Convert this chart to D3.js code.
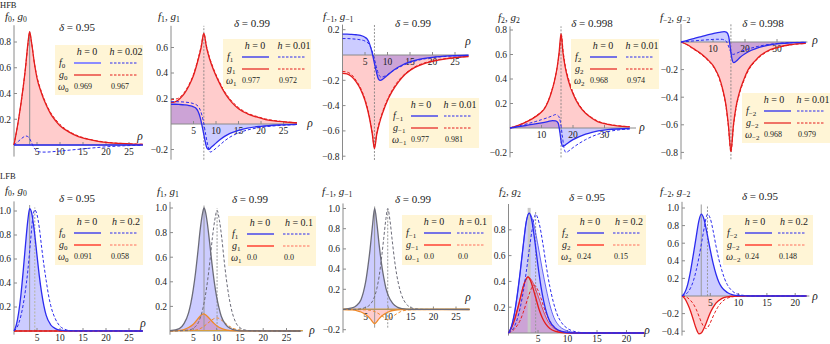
<!DOCTYPE html>
<html>
<head>
<meta charset="utf-8">
<script src="https://cdn.jsdelivr.net/npm/d3@7"></script>
<style>
  body { margin: 0; background: #fff; }
  svg text { font-family: "Liberation Serif", "DejaVu Serif", serif; fill: #222; }
</style>
</head>
<body>
<svg id="chart" width="830" height="344"></svg>
<script>
// ---------- values ----------
var modes = ["0", "1", "\u22121", "2", "\u22122"];
var hfbDelta = ["0.95", "0.99", "0.99", "0.998", "0.998"];
var lfbDelta = ["0.95", "0.99", "0.99", "0.95", "0.95"];
var hfbH = ["0.02", "0.01", "0.01", "0.01", "0.01"];
var lfbH = ["0.2", "0.1", "0.1", "0.2", "0.2"];
var hfbOmega = [["0.969", "0.967"], ["0.977", "0.972"], ["0.977", "0.981"], ["0.968", "0.974"], ["0.968", "0.979"]];
var lfbOmega = [["0.091", "0.058"], ["0.0", "0.0"], ["0.0", "0.0"], ["0.24", "0.15"], ["0.24", "0.148"]];
var hfbPeak = [3.4, 7.3, 7.1, 16.2, 15.6];
var lfbPeak = [[3.4, 4.5], [7.3, 10.1], [7.0, 9.9], [3.5, 4.6], [3.4, 4.5]];

var xTicksA = [5, 10, 15, 20, 25];
var xTicksB = [10, 20, 30];
var xTicksC = [5, 10, 15, 20];
var yTicksP1 = [0.2, 0.4, 0.6, 0.8];
var yTicksP2 = [-0.2, 0.2, 0.4, 0.6];
var yTicksP3 = [0.2, -0.2, -0.4, -0.6, -0.8];
var yTicksP4 = [-0.2, 0.2, 0.4, 0.6, 0.8];
var yTicksP5 = [-0.2, -0.4, -0.6, -0.8];
var yTicksL1 = [0.2, 0.4, 0.6, 0.8, 1.0];
var yTicksL3 = [-0.2, 0.2, 0.4, 0.6, 0.8, 1.0];
var yTicksL4 = [0.2, 0.4, 0.6, 0.8];
var yTicksL5 = [-0.4, -0.2, 0.2, 0.4, 0.6, 0.8, 1.0];

// HFB, m = 0
var hfb0_f_a = [[0,0],[28,0]];
var hfb0_f_b = [[0,0],[1,0.03],[2,0.06],[2.6,0.07],[3.2,0.06],[3.8,0.02],[4.3,-0.02],[5,-0.045],[6,-0.055],[7,-0.055],[9,-0.05],[12,-0.04],[15,-0.03],[18,-0.02],[21,-0.012],[24,-0.006],[28,-0.002]];
var hfb0_g_a = [[0,0],[1,0.2],[2,0.45],[2.5,0.6],[3,0.78],[3.4,0.88],[3.8,0.8],[4.5,0.62],[5,0.52],[6,0.4],[7,0.31],[8,0.24],[9,0.19],[10,0.15],[12,0.1],[14,0.065],[16,0.045],[18,0.03],[20,0.02],[23,0.012],[26,0.007],[28,0.005]];
var hfb0_g_b = [[0,0],[1,0.2],[2,0.45],[2.5,0.6],[3,0.77],[3.4,0.87],[3.8,0.8],[4.5,0.62],[5,0.53],[6,0.41],[7,0.32],[8,0.25],[9,0.2],[10,0.16],[12,0.105],[14,0.07],[16,0.048],[18,0.033],[20,0.022],[23,0.013],[26,0.008],[28,0.006]];
// HFB, m = 1
var hfb1_f_a = [[0,0.155],[1,0.155],[2,0.153],[3,0.15],[4,0.145],[5,0.135],[5.5,0.125],[6,0.1],[6.5,0.05],[7,-0.03],[7.5,-0.12],[8,-0.19],[8.4,-0.2],[9,-0.18],[10,-0.15],[11,-0.12],[12,-0.095],[13,-0.075],[15,-0.05],[17,-0.032],[20,-0.018],[24,-0.008],[28,-0.003]];
var hfb1_f_b = [[0,0.175],[1,0.175],[2,0.174],[3,0.172],[4,0.168],[5,0.16],[6,0.14],[6.6,0.1],[7.2,0.02],[7.7,-0.08],[8.2,-0.17],[8.7,-0.22],[9.3,-0.21],[10,-0.19],[11,-0.16],[12,-0.13],[13,-0.105],[15,-0.07],[17,-0.047],[20,-0.026],[24,-0.012],[28,-0.005]];
var hfb1_g_a = [[0,0.17],[0.5,0.17],[1,0.175],[2,0.2],[3,0.24],[4,0.3],[5,0.38],[6,0.5],[6.7,0.6],[7.3,0.71],[7.9,0.6],[8.5,0.52],[9.5,0.42],[10.5,0.34],[12,0.24],[13.5,0.17],[15,0.12],[17,0.08],[19,0.055],[21,0.035],[24,0.02],[28,0.008]];
var hfb1_g_b = [[0,0.19],[1,0.195],[2,0.21],[3,0.25],[4,0.31],[5,0.39],[6,0.51],[6.7,0.61],[7.3,0.71],[7.9,0.61],[8.5,0.53],[9.5,0.43],[10.5,0.35],[12,0.25],[13.5,0.18],[15,0.13],[17,0.085],[19,0.06],[21,0.04],[24,0.022],[28,0.01]];
// HFB, m = -1
var hfbm1_f_a = [[0,0.165],[1,0.165],[2,0.163],[3,0.16],[4,0.155],[5,0.14],[5.5,0.125],[6,0.09],[6.5,0.03],[7,-0.05],[7.5,-0.13],[8,-0.19],[8.4,-0.2],[9,-0.19],[10,-0.16],[11,-0.13],[12,-0.105],[13,-0.085],[15,-0.055],[17,-0.035],[20,-0.018],[24,-0.007],[28,-0.002]];
var hfbm1_f_b = [[0,0.13],[1,0.13],[2,0.128],[3,0.125],[4,0.12],[5,0.11],[6,0.08],[6.5,0.04],[7,-0.02],[7.5,-0.09],[8,-0.15],[8.6,-0.175],[9.2,-0.17],[10,-0.155],[11,-0.13],[12,-0.11],[13,-0.09],[15,-0.06],[17,-0.04],[20,-0.021],[24,-0.009],[28,-0.003]];
var hfbm1_g_a = [[0,-0.145],[1,-0.15],[2,-0.17],[3,-0.21],[4,-0.27],[5,-0.36],[6,-0.5],[6.6,-0.62],[7.1,-0.74],[7.6,-0.63],[8.2,-0.54],[9,-0.45],[10,-0.36],[11,-0.29],[12.5,-0.21],[14,-0.15],[16,-0.1],[18,-0.07],[20,-0.05],[23,-0.03],[28,-0.012]];
var hfbm1_g_b = [[0,-0.13],[1,-0.135],[2,-0.155],[3,-0.2],[4,-0.26],[5,-0.35],[6,-0.49],[6.6,-0.61],[7.1,-0.73],[7.6,-0.62],[8.2,-0.53],[9,-0.44],[10,-0.35],[11,-0.28],[12.5,-0.2],[14,-0.145],[16,-0.095],[18,-0.065],[20,-0.045],[23,-0.028],[28,-0.011]];
// HFB, m = 2
var hfb2_f_a = [[0,0],[2,0.008],[4,0.016],[6,0.025],[8,0.033],[10,0.042],[12,0.052],[13.5,0.06],[14.5,0.058],[15.3,0.04],[15.8,-0.03],[16.3,-0.12],[16.8,-0.15],[17.5,-0.14],[18.5,-0.12],[20,-0.095],[22,-0.07],[24,-0.05],[26,-0.035],[28,-0.024],[31,-0.014],[34,-0.008],[38,-0.004]];
var hfb2_f_b = [[0,0],[2,0.012],[4,0.025],[6,0.038],[8,0.052],[10,0.068],[12,0.085],[13.5,0.1],[14.5,0.11],[15.3,0.1],[16,0.05],[16.6,-0.06],[17.2,-0.17],[17.8,-0.2],[18.5,-0.19],[20,-0.16],[22,-0.125],[24,-0.095],[26,-0.07],[28,-0.05],[31,-0.03],[34,-0.017],[38,-0.008]];
var hfb2_g_a = [[0,0],[2,0.015],[4,0.035],[6,0.06],[8,0.09],[10,0.13],[11,0.16],[12,0.21],[13,0.28],[14,0.37],[15,0.5],[15.6,0.62],[16.2,0.77],[16.8,0.62],[17.5,0.5],[18.5,0.39],[20,0.28],[22,0.18],[24,0.12],[26,0.08],[28,0.05],[31,0.03],[34,0.018],[38,0.01]];
var hfb2_g_b = [[0,0],[2,0.016],[4,0.037],[6,0.063],[8,0.095],[10,0.135],[11,0.165],[12,0.215],[13,0.285],[14,0.375],[15,0.5],[15.7,0.62],[16.3,0.76],[16.9,0.62],[17.6,0.5],[18.6,0.4],[20,0.29],[22,0.19],[24,0.125],[26,0.085],[28,0.055],[31,0.033],[34,0.02],[38,0.011]];
// HFB, m = -2
var hfbm2_f_a = [[0,0],[2,0.012],[4,0.025],[6,0.037],[8,0.05],[10,0.06],[12,0.07],[13.5,0.075],[14.3,0.07],[14.9,0.04],[15.4,-0.04],[15.9,-0.12],[16.5,-0.15],[17.2,-0.14],[18.5,-0.11],[20,-0.085],[22,-0.06],[24,-0.042],[26,-0.03],[28,-0.02],[31,-0.011],[35,-0.005],[39,-0.002]];
var hfbm2_f_b = [[0,0],[3,0.006],[6,0.012],[9,0.017],[11,0.02],[12.5,0.02],[13.5,0.015],[14.3,0],[15,-0.04],[15.7,-0.08],[16.3,-0.09],[17,-0.085],[18.5,-0.07],[20,-0.058],[22,-0.044],[24,-0.032],[26,-0.023],[28,-0.016],[31,-0.009],[35,-0.004],[39,-0.002]];
var hfbm2_g_a = [[0,0],[2,-0.02],[4,-0.05],[6,-0.08],[8,-0.12],[10,-0.17],[11,-0.21],[12,-0.26],[13,-0.34],[14,-0.45],[14.8,-0.6],[15.6,-0.79],[16.4,-0.6],[17.2,-0.47],[18.2,-0.37],[19.5,-0.28],[21,-0.2],[23,-0.14],[25,-0.095],[27,-0.065],[30,-0.04],[34,-0.02],[39,-0.01]];
var hfbm2_g_b = [[0,0],[2,-0.022],[4,-0.053],[6,-0.085],[8,-0.125],[10,-0.175],[11,-0.215],[12,-0.27],[13,-0.35],[14,-0.46],[14.8,-0.61],[15.6,-0.8],[16.4,-0.61],[17.2,-0.48],[18.2,-0.38],[19.5,-0.29],[21,-0.21],[23,-0.145],[25,-0.1],[27,-0.07],[30,-0.043],[34,-0.022],[39,-0.011]];

// LFB, m = 0
var lfb0_f_a = [[0,0],[0.5,0.05],[1,0.15],[1.5,0.3],[2,0.5],[2.5,0.72],[3,0.92],[3.4,1.02],[3.8,0.99],[4.3,0.87],[5,0.63],[5.5,0.46],[6,0.32],[6.5,0.21],[7,0.13],[8,0.05],[9,0.02],[10,0.007],[12,0.001],[28,0]];
var lfb0_f_b = [[0,0],[1,0.06],[2,0.22],[3,0.5],[3.6,0.75],[4.1,0.95],[4.5,1.01],[5,0.97],[5.5,0.86],[6,0.7],[6.5,0.55],[7,0.42],[7.5,0.3],[8,0.21],[9,0.1],[10,0.04],[11,0.015],[12,0.005],[14,0],[28,0]];
var lfb0_g_a = [[0,0],[28,0]];
var lfb0_g_b = [[0,0],[28,0]];
// LFB, m = 1
var lfb1_f_a = [[0,0.003],[2,0.02],[3,0.06],[4,0.15],[4.5,0.23],[5,0.34],[5.5,0.48],[6,0.65],[6.5,0.83],[7,0.96],[7.3,1.0],[7.6,0.97],[8,0.88],[8.5,0.72],[9,0.55],[9.5,0.4],[10,0.28],[10.5,0.19],[11,0.12],[12,0.05],[13,0.02],[14,0.008],[16,0.001],[28,0]];
var lfb1_f_b = [[0,0],[4.1,0.008],[5.1,0.025],[6.1,0.07],[7.1,0.19],[7.6,0.29],[8.1,0.42],[8.6,0.58],[9.1,0.76],[9.6,0.9],[10.1,0.98],[10.6,0.9],[11.1,0.76],[11.6,0.58],[12.1,0.42],[12.6,0.29],[13.1,0.19],[14.1,0.07],[15.1,0.025],[16.1,0.008],[18,0.001],[28,0]];
var lfb1_g_a = [[0,0],[2,0.005],[3,0.012],[4,0.028],[5,0.055],[6,0.1],[6.7,0.13],[7.2,0.14],[7.7,0.13],[8.5,0.1],[9.5,0.06],[10.5,0.03],[12,0.01],[14,0.002],[28,0]];
var lfb1_g_b = [[0,0],[5,0.004],[6,0.012],[7,0.03],[8,0.06],[9,0.09],[9.6,0.103],[10.1,0.107],[10.6,0.1],[11.5,0.075],[12.5,0.045],[13.5,0.022],[15,0.007],[17,0.001],[28,0]];
// LFB, m = -1
var lfbm1_f_a = [[0,0.002],[2,0.015],[3,0.04],[4,0.1],[4.5,0.17],[5,0.27],[5.5,0.42],[6,0.6],[6.5,0.82],[7,1.0],[7.5,0.85],[8,0.64],[8.5,0.46],[9,0.32],[9.5,0.21],[10,0.14],[11,0.06],[12,0.024],[13,0.009],[15,0.001],[28,0]];
var lfbm1_f_b = [[0,0],[3,0.002],[5,0.02],[6,0.05],[7,0.13],[7.5,0.21],[8,0.33],[8.5,0.5],[9,0.7],[9.5,0.9],[9.9,1.0],[10.4,0.88],[10.9,0.68],[11.4,0.49],[11.9,0.34],[12.4,0.23],[12.9,0.15],[13.9,0.06],[14.9,0.022],[16,0.007],[18,0.001],[28,0]];
var lfbm1_g_a = [[0,0],[2,-0.004],[3,-0.01],[4,-0.025],[5,-0.05],[6,-0.09],[6.6,-0.125],[7,-0.14],[7.4,-0.125],[8,-0.09],[9,-0.05],[10,-0.025],[11,-0.01],[13,-0.002],[28,0]];
var lfbm1_g_b = [[0,0],[5,-0.003],[6,-0.008],[7,-0.02],[8,-0.045],[9,-0.075],[9.9,-0.1],[10.8,-0.075],[11.8,-0.045],[12.8,-0.02],[14,-0.006],[16,-0.001],[28,0]];
// LFB, m = 2
var lfb2_f_a = [[0,0],[0.5,0.05],[1,0.15],[1.5,0.3],[2,0.48],[2.5,0.68],[3,0.86],[3.5,0.93],[4,0.86],[4.5,0.7],[5,0.52],[5.5,0.36],[6,0.24],[6.5,0.15],[7,0.09],[8,0.035],[9,0.012],[10,0.004],[12,0],[23,0]];
var lfb2_f_c = [[0,0],[0.5,0.05],[1,0.15],[1.5,0.3],[2,0.48],[2.5,0.68],[3,0.86],[3.5,0.93],[4.2,0.86],[5,0.68],[5.7,0.5],[6.4,0.34],[7,0.22],[7.7,0.12],[8.5,0.06],[9.5,0.025],[10.5,0.01],[12,0.002],[23,0]];
var lfb2_f_b = [[0,0],[1,0.05],[1.5,0.11],[2,0.2],[2.5,0.32],[3,0.47],[3.5,0.64],[4,0.8],[4.6,0.92],[5.2,0.85],[5.8,0.7],[6.4,0.52],[7,0.36],[7.6,0.24],[8.2,0.15],[9,0.08],[10,0.035],[11,0.014],[12,0.005],[14,0],[23,0]];
var lfb2_g_a = [[0,0],[0.5,0.04],[1,0.1],[1.5,0.18],[2,0.27],[2.5,0.36],[3,0.42],[3.3,0.435],[3.7,0.41],[4.2,0.34],[4.7,0.26],[5.2,0.18],[5.7,0.12],[6.3,0.07],[7,0.035],[8,0.012],[9,0.004],[11,0],[23,0]];
var lfb2_g_c = [[0,0],[0.5,0.04],[1,0.1],[1.5,0.18],[2,0.27],[2.5,0.36],[3,0.42],[3.3,0.435],[3.9,0.41],[4.6,0.34],[5.3,0.25],[6,0.16],[6.7,0.09],[7.5,0.045],[8.5,0.018],[10,0.004],[12,0],[23,0]];
var lfb2_g_b = [[0,0],[1,0.03],[1.5,0.06],[2,0.1],[2.5,0.16],[3,0.23],[3.5,0.3],[4,0.355],[4.4,0.37],[4.9,0.34],[5.5,0.27],[6,0.2],[6.6,0.13],[7.3,0.07],[8,0.035],[9,0.012],[10,0.004],[12,0],[23,0]];
// LFB, m = -2
var lfbm2_f_a = [[0,0],[0.5,0.04],[1,0.13],[1.5,0.28],[2,0.47],[2.5,0.67],[3,0.86],[3.4,0.93],[3.9,0.87],[4.4,0.72],[5,0.52],[5.5,0.37],[6,0.25],[6.5,0.16],[7,0.1],[8,0.04],[9,0.014],[10,0.005],[12,0],[22,0]];
var lfbm2_f_b = [[0,0],[1,0.04],[1.5,0.09],[2,0.17],[2.5,0.29],[3,0.44],[3.5,0.62],[4,0.8],[4.5,0.93],[5,0.88],[5.5,0.74],[6,0.57],[6.5,0.42],[7,0.3],[7.5,0.2],[8,0.13],[9,0.05],[10,0.018],[11,0.006],[13,0],[22,0]];
var lfbm2_g_a = [[0,0],[0.5,-0.03],[1,-0.09],[1.5,-0.17],[2,-0.27],[2.5,-0.37],[3,-0.43],[3.4,-0.42],[4,-0.35],[4.5,-0.27],[5,-0.19],[5.5,-0.13],[6,-0.08],[7,-0.03],[8,-0.01],[9,-0.003],[11,0],[22,0]];
var lfbm2_g_b = [[0,0],[1,-0.02],[1.5,-0.05],[2,-0.09],[2.5,-0.15],[3,-0.23],[3.5,-0.31],[4,-0.36],[4.3,-0.37],[4.8,-0.33],[5.3,-0.26],[5.8,-0.19],[6.3,-0.13],[7,-0.07],[8,-0.025],[9,-0.008],[10,-0.002],[12,0],[22,0]];

// ---------- styles ----------
var blue = "#2b2bef",
    red = "#e41c1c",
    orange = "#ee8a2a",
    grayBell = "#6b6b78",
    legendFill = "#fff5d6",
    axisColor = "#8a8a8a",
    guideColor = "#9a9a9a";

// ---------- panel layout (pixel frame of every small plot) ----------
var panels = [
  { row: 0, m: 0, ox: 14, kx: 4.6, xMax: 28, oy: 145, ky: 128.75, yLo: -0.09, yHi: 0.93,
    xt: xTicksA, yt: yTicksP1, lab: [5, 20], del: [77, 31], rho: [140, 140], leg: [55, 45],
    f: [hfb0_f_a, hfb0_f_b], g: [hfb0_g_a, hfb0_g_b], fc: blue, gc: red, guide: "peak" },
  { row: 0, m: 1, ox: 171, kx: 4.5, xMax: 28, oy: 124, ky: 127.5, yLo: -0.28, yHi: 0.77,
    xt: xTicksA, yt: yTicksP2, lab: [158, 20], del: [252, 27], rho: [310, 127], leg: [223, 39],
    f: [hfb1_f_a, hfb1_f_b], g: [hfb1_g_a, hfb1_g_b], fc: blue, gc: red, guide: "full" },
  { row: 0, m: 2, ox: 342.5, kx: 4.5, xMax: 28, oy: 55, ky: 126.5, yLo: -0.83, yHi: 0.24,
    xt: xTicksA, yt: yTicksP3, lab: [323, 20], del: [413, 27], rho: [468, 45], leg: [389, 98],
    f: [hfbm1_f_a, hfbm1_f_b], g: [hfbm1_g_a, hfbm1_g_b], fc: blue, gc: red, guide: "full" },
  { row: 0, m: 3, ox: 510, kx: 3.15, xMax: 40, oy: 128, ky: 122.5, yLo: -0.24, yHi: 0.83,
    xt: xTicksB, yt: yTicksP4, lab: [498, 21], del: [592, 27], rho: [642, 131], leg: [571, 39],
    f: [hfb2_f_a, hfb2_f_b], g: [hfb2_g_a, hfb2_g_b], fc: blue, gc: red, guide: "full" },
  { row: 0, m: 4, ox: 681, kx: 3.2, xMax: 39.5, oy: 42, ky: 138, yLo: -0.85, yHi: 0.13,
    xt: xTicksB, yt: yTicksP5, lab: [660, 21], del: [763, 27], rho: [815, 44], leg: [742, 93],
    f: [hfbm2_f_a, hfbm2_f_b], g: [hfbm2_g_a, hfbm2_g_b], fc: blue, gc: red, guide: "full" },
  { row: 1, m: 0, ox: 14, kx: 4.6, xMax: 28, oy: 331, ky: 120, yLo: -0.03, yHi: 1.08,
    xt: xTicksA, yt: yTicksL1, lab: [5, 194], del: [77, 202], rho: [143, 327], leg: [55, 215],
    f: [lfb0_f_a, lfb0_f_b], g: [lfb0_g_a, lfb0_g_b], fc: blue, gc: red, guide: "pair" },
  { row: 1, m: 1, ox: 170, kx: 4.66, xMax: 28.5, oy: 331, ky: 123, yLo: -0.03, yHi: 1.05,
    xt: xTicksA, yt: yTicksL1, lab: [157, 195], del: [250, 203], rho: [312, 334], leg: [228, 216],
    f: [lfb1_f_a, lfb1_f_b], g: [lfb1_g_a, lfb1_g_b], fc: grayBell, gc: orange, guide: "pair" },
  { row: 1, m: 2, ox: 343, kx: 4.52, xMax: 28, oy: 309.5, ky: 101, yLo: -0.23, yHi: 1.05,
    xt: xTicksA, yt: yTicksL3, lab: [322, 195], del: [413, 203], rho: [468, 301], leg: [402, 215],
    f: [lfbm1_f_a, lfbm1_f_b], g: [lfbm1_g_a, lfbm1_g_b], fc: grayBell, gc: orange, guide: "pair" },
  { row: 1, m: 3, ox: 508.5, kx: 5.9, xMax: 23, oy: 333, ky: 129, yLo: -0.02, yHi: 1.0,
    xt: xTicksC, yt: yTicksL4, lab: [499, 195], del: [587, 201], rho: [647, 334], leg: [558, 215],
    f: [lfb2_f_a, lfb2_f_b, lfb2_f_c], g: [lfb2_g_a, lfb2_g_b, lfb2_g_c], fc: blue, gc: red, guide: "pair" },
  { row: 1, m: 4, ox: 682, kx: 5.66, xMax: 22.5, oy: 296, ky: 88, yLo: -0.45, yHi: 1.07,
    xt: xTicksC, yt: yTicksL5, lab: [660, 195], del: [760, 200], rho: [815, 300], leg: [723, 215],
    f: [lfbm2_f_a, lfbm2_f_b], g: [lfbm2_g_a, lfbm2_g_b], fc: blue, gc: red, guide: "pair" }
];

var svg = d3.select("#chart");

// text with italic parts and subscripts
function richText(sel, x, y, parts, size, anchor) {
  var t = sel.append("text")
             .attr("x", x).attr("y", y)
             .attr("font-size", size)
             .attr("text-anchor", anchor || "start");
  var shift = 0;
  parts.forEach(function(p) {
    var target = p.sub ? size * 0.18 : 0;
    var s = t.append("tspan").text(p.t).attr("dy", target - shift);
    shift = target;
    if (p.i) s.attr("font-style", "italic");
    if (p.sub) s.attr("font-size", size * 0.7);
  });
  return t;
}

function fmtTick(v) {
  var s = Math.abs(v).toFixed(1);
  return (v < 0 ? "\u2212" : "") + s;
}

svg.append("text").attr("x", 0).attr("y", 8).attr("font-size", 8.5).text("HFB");
svg.append("text").attr("x", 0).attr("y", 179).attr("font-size", 8.5).text("LFB");

panels.forEach(function(p) {
  var k = p.m;
  var isH = p.row === 0;
  var idx = modes[k];
  var neg = idx.charAt(0) === "\u2212";
  var x = d3.scaleLinear().domain([0, p.xMax]).range([p.ox, p.ox + p.kx * p.xMax]);
  var y = d3.scaleLinear().domain([p.yLo, p.yHi]).range([p.oy - p.yLo * p.ky, p.oy - p.yHi * p.ky]);
  var g = svg.append("g");

  var line = d3.line().x(function(d) { return x(d[0]); }).y(function(d) { return y(d[1]); })
               .curve(d3.curveMonotoneX);
  var area = d3.area().x(function(d) { return x(d[0]); }).y0(y(0)).y1(function(d) { return y(d[1]); })
               .curve(d3.curveMonotoneX);

  // shaded areas under the h = 0 curves
  var gFill = p.g[2] || p.g[0], fFill = p.f[2] || p.f[0];
  g.append("path").attr("d", area(gFill)).attr("fill", "#ff0000").attr("fill-opacity", 0.2);
  g.append("path").attr("d", area(fFill)).attr("fill", "#0000ff").attr("fill-opacity", 0.2);

  // guide lines at the peaks
  if (isH) {
    var pk = hfbPeak[k];
    if (p.guide === "peak") {
      g.append("line").attr("x1", x(pk)).attr("x2", x(pk)).attr("y1", y(0)).attr("y2", y(0.88))
       .attr("stroke", guideColor).attr("stroke-width", 1.2);
    } else {
      g.append("line").attr("x1", x(pk)).attr("x2", x(pk)).attr("y1", y(p.yLo)).attr("y2", y(p.yHi))
       .attr("stroke", "#777").attr("stroke-width", 0.8).attr("stroke-dasharray", "2,1.5");
    }
  } else {
    var pp = lfbPeak[k];
    var lo = k === 2 ? -0.18 : 0;
    g.append("line").attr("x1", x(pp[0])).attr("x2", x(pp[0])).attr("y1", y(lo)).attr("y2", y(p.yHi - 0.03))
     .attr("stroke", k === 3 ? "#c8c8c8" : guideColor).attr("stroke-width", k === 3 ? 3 : 1);
    g.append("line").attr("x1", x(pp[1])).attr("x2", x(pp[1])).attr("y1", y(lo)).attr("y2", y(p.yHi - 0.05))
     .attr("stroke", k === 0 ? "#bbb" : guideColor).attr("stroke-width", k === 0 ? 1.4 : 1)
     .attr("stroke-dasharray", "2,1.5");
  }

  // axes
  g.append("line").attr("x1", x(0)).attr("x2", x(p.xMax)).attr("y1", y(0)).attr("y2", y(0))
   .attr("stroke", axisColor).attr("stroke-width", 1);
  g.append("line").attr("x1", x(0)).attr("x2", x(0)).attr("y1", y(p.yLo)).attr("y2", y(p.yHi))
   .attr("stroke", axisColor).attr("stroke-width", 1);

  p.xt.forEach(function(v) {
    g.append("line").attr("x1", x(v)).attr("x2", x(v)).attr("y1", y(0)).attr("y2", y(0) - 3)
     .attr("stroke", axisColor);
    g.append("text").attr("x", x(v)).attr("y", Math.min(y(0) + 10, 341.5)).attr("font-size", 9.5)
     .attr("text-anchor", "middle").text(v);
  });
  p.yt.forEach(function(v) {
    g.append("line").attr("x1", x(0)).attr("x2", x(0) + 3).attr("y1", y(v)).attr("y2", y(v))
     .attr("stroke", axisColor);
    g.append("text").attr("x", x(0) - 3).attr("y", y(v) + 3.3).attr("font-size", 9.5)
     .attr("text-anchor", "end").text(fmtTick(v));
  });

  // curves
  if (!isH && (k === 1 || k === 2)) {
    // flat g line along the baseline
    g.append("line").attr("x1", x(0)).attr("x2", x(p.xMax)).attr("y1", y(0) - 0.5).attr("y2", y(0) - 0.5)
     .attr("stroke", "#d4a040").attr("stroke-width", 1);
  }
  if (p.g[2]) g.append("path").attr("d", line(p.g[2])).attr("fill", "none").attr("stroke", p.gc).attr("stroke-width", 0.7);
  if (p.f[2]) g.append("path").attr("d", line(p.f[2])).attr("fill", "none").attr("stroke", p.fc).attr("stroke-width", 0.7);
  g.append("path").attr("d", line(p.g[0])).attr("fill", "none").attr("stroke", p.gc).attr("stroke-width", 1.3);
  g.append("path").attr("d", line(p.g[1])).attr("fill", "none").attr("stroke", p.gc).attr("stroke-width", 1)
   .attr("stroke-dasharray", "3,2");
  g.append("path").attr("d", line(p.f[0])).attr("fill", "none").attr("stroke", p.fc).attr("stroke-width", 1.3);
  g.append("path").attr("d", line(p.f[1])).attr("fill", "none").attr("stroke", p.fc).attr("stroke-width", 1)
   .attr("stroke-dasharray", "3,2");

  // labels
  richText(g, p.lab[0], p.lab[1], [{t: "f", i: 1}, {t: idx, sub: 1}, {t: ", "}, {t: "g", i: 1}, {t: idx, sub: 1}], 11);
  richText(g, p.del[0], p.del[1], [{t: "\u03b4", i: 1}, {t: " = " + (isH ? hfbDelta[k] : lfbDelta[k])}], 11, "middle");
  g.append("text").attr("x", p.rho[0]).attr("y", p.rho[1]).attr("font-size", 11.5)
   .attr("font-style", "italic").attr("text-anchor", "middle").text("\u03c1");

  // legend box
  var lx = p.leg[0], ly = p.leg[1];
  var c1 = neg ? 22 : 19;
  var lg = g.append("g");
  lg.append("rect").attr("x", lx).attr("y", ly).attr("width", neg ? 90 : 88).attr("height", 50).attr("fill", legendFill);
  richText(lg, lx + 32, ly + 10, [{t: "h", i: 1}, {t: " = 0"}], 10, "middle");
  richText(lg, lx + 71, ly + 10, [{t: "h", i: 1}, {t: " = " + (isH ? hfbH[k] : lfbH[k])}], 10, "middle");
  richText(lg, lx + 4, ly + 21, [{t: "f", i: 1}, {t: idx, sub: 1}], 10);
  richText(lg, lx + 4, ly + 33, [{t: "g", i: 1}, {t: idx, sub: 1}], 10);
  richText(lg, lx + 3, ly + 45, [{t: "\u03c9", i: 1}, {t: idx, sub: 1}], 10);
  var fLeg = p.fc === grayBell ? blue : p.fc;
  var gLeg = isH ? p.gc : "#ff6f5c";
  lg.append("line").attr("x1", lx + c1).attr("x2", lx + c1 + 27).attr("y1", ly + 18).attr("y2", ly + 18)
    .attr("stroke", k === 0 && isH ? "#8c8cff" : fLeg).attr("stroke-width", k === 0 && isH ? 2 : 1.3);
  lg.append("line").attr("x1", lx + 55).attr("x2", lx + 82).attr("y1", ly + 18).attr("y2", ly + 18)
    .attr("stroke", fLeg).attr("stroke-width", 1).attr("stroke-dasharray", "2.5,1.5");
  lg.append("line").attr("x1", lx + c1).attr("x2", lx + c1 + 27).attr("y1", ly + 30).attr("y2", ly + 30)
    .attr("stroke", gLeg).attr("stroke-width", isH ? 1.2 : 2);
  lg.append("line").attr("x1", lx + 55).attr("x2", lx + 82).attr("y1", ly + 30).attr("y2", ly + 30)
    .attr("stroke", gLeg).attr("stroke-width", 1).attr("stroke-dasharray", "2.5,1.5");
  var om = isH ? hfbOmega[k] : lfbOmega[k];
  lg.append("text").attr("x", lx + c1).attr("y", ly + 44).attr("font-size", 8).text(om[0]);
  lg.append("text").attr("x", lx + 56).attr("y", ly + 44).attr("font-size", 8).text(om[1]);
});
</script>
</body>
</html>
